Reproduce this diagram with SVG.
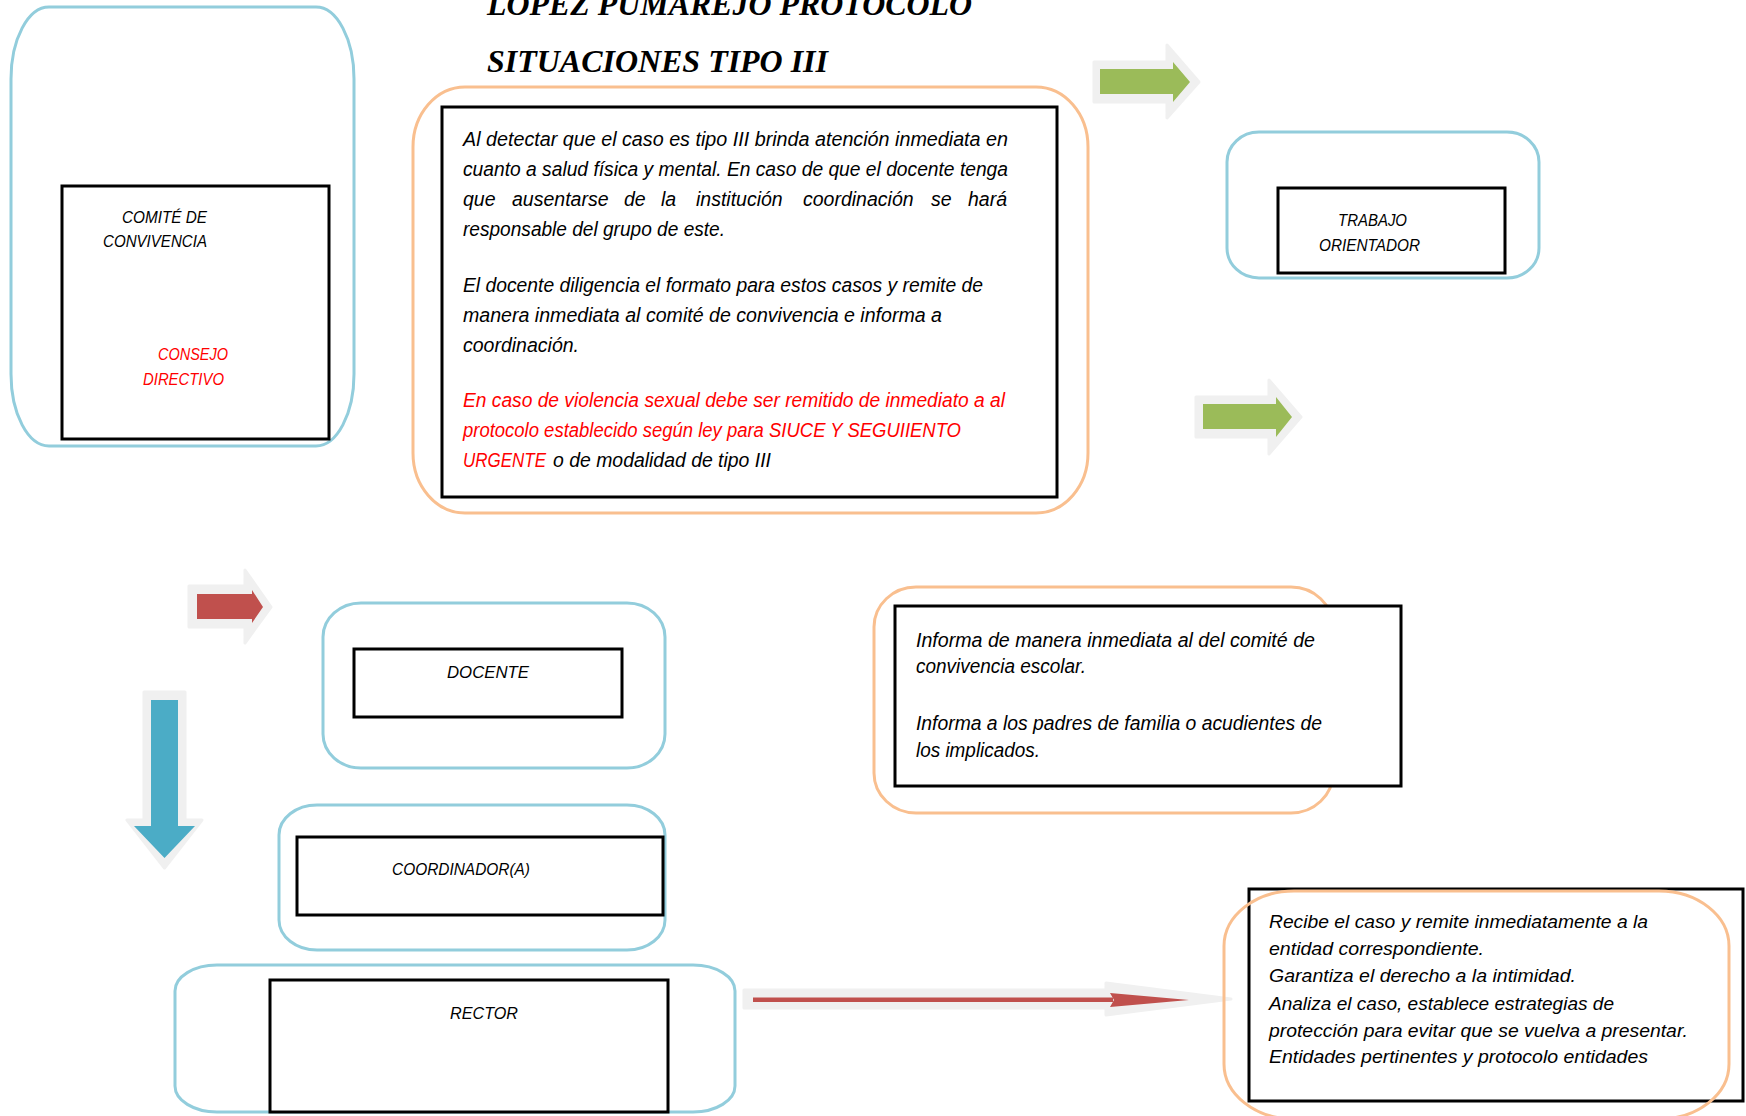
<svg xmlns="http://www.w3.org/2000/svg" width="1746" height="1116" viewBox="0 0 1746 1116">
  <style>
    .blue { fill: none; stroke: #92CDDC; stroke-width: 3; }
    .orange { fill: none; stroke: #F9BF8F; stroke-width: 3; }
    .box { fill: #FFFFFF; stroke: #000000; stroke-width: 3; }
    .t { font-family: "Liberation Sans", Arial, sans-serif; font-style: italic; fill: #000000; }
    .lbl { font-size: 17px; }
    .body { font-size: 19.5px; }
    .small { font-size: 19px; }
    .red { fill: #FF0000; }
    .title { font-family: "Liberation Serif", "Times New Roman", serif; font-weight: bold; font-style: italic; font-size: 32px; fill: #000000; }
    .halo { fill: #F0F0F0; stroke: #F0F0F0; stroke-width: 3; stroke-linejoin: round; }
  </style>

  <rect width="1746" height="1116" fill="#FFFFFF"/>

  <!-- title -->
  <g id="title">
    <text class="title" x="487" y="15" textLength="485" lengthAdjust="spacingAndGlyphs">LOPEZ PUMAREJO PROTOCOLO</text>
    <text class="title" x="487" y="72" textLength="341" lengthAdjust="spacingAndGlyphs">SITUACIONES TIPO III</text>
  </g>

  <!-- connectors: block arrows -->
  <g id="connectors">
    <!-- green arrow, top -->
    <polygon class="halo" points="1094,62 1167,62 1167,45 1199,82 1167,118 1167,102 1094,102"/>
    <polygon fill="#9BBB59" points="1100,69 1173,69 1173,62 1190,82 1173,102 1173,94 1100,94"/>
    <!-- green arrow, middle -->
    <polygon class="halo" points="1196,397 1269,397 1269,380 1301,417 1269,454 1269,437 1196,437"/>
    <polygon fill="#9BBB59" points="1203,404 1276,404 1276,397 1292,417 1276,437 1276,429 1203,429"/>
    <!-- red arrow, left -->
    <polygon class="halo" points="189,586 245,586 245,570 271,607 245,643 245,627 189,627"/>
    <polygon fill="#C0504D" points="197,594 252,594 252,590 263,607 252,623 252,619 197,619"/>
    <!-- blue arrow, down -->
    <polygon class="halo" points="144,692 185,692 185,820 202,820 164.5,868 127,820 144,820"/>
    <polygon fill="#4BACC6" points="151,700 178,700 178,826 195,826 164.5,858 134,826 151,826"/>
    <!-- long red arrow -->
    <polygon class="halo" points="744,990 1106,990 1106,983 1231,999 1106,1015 1106,1008 744,1008"/>
    <rect x="753" y="997.5" width="360" height="4.5" fill="#C0504D"/>
    <polygon fill="#C0504D" points="1110,993 1189,1000 1110,1007 1114,1000"/>
  </g>

  <!-- COMITÉ DE CONVIVENCIA / CONSEJO DIRECTIVO -->
  <g id="comite">
    <rect class="blue" x="11" y="7" width="343" height="439" rx="38" ry="72"/>
    <rect class="box" x="62" y="186" width="267" height="253"/>
    <text class="t lbl" x="122" y="223" textLength="85" lengthAdjust="spacingAndGlyphs">COMITÉ DE</text>
    <text class="t lbl" x="103" y="247" textLength="104" lengthAdjust="spacingAndGlyphs">CONVIVENCIA</text>
    <text class="t lbl red" x="158" y="360" textLength="70" lengthAdjust="spacingAndGlyphs">CONSEJO</text>
    <text class="t lbl red" x="143" y="385" textLength="81" lengthAdjust="spacingAndGlyphs">DIRECTIVO</text>
  </g>

  <!-- main description -->
  <g id="descripcion">
    <rect class="orange" x="413" y="87" width="675" height="426" rx="52" ry="60"/>
    <rect class="box" x="442" y="107" width="615" height="390"/>
    <text class="t body" x="463" y="146" textLength="545" lengthAdjust="spacingAndGlyphs">Al detectar que el caso es tipo III brinda atención inmediata en</text>
    <text class="t body" x="463" y="176" textLength="545" lengthAdjust="spacingAndGlyphs">cuanto a salud física y mental. En caso de que el docente tenga</text>
    <text class="t body" y="206">
      <tspan x="463">que</tspan><tspan x="512">ausentarse</tspan><tspan x="624">de</tspan><tspan x="661">la</tspan><tspan x="696">institución</tspan><tspan x="803">coordinación</tspan><tspan x="931">se</tspan><tspan x="968">hará</tspan>
    </text>
    <text class="t body" x="463" y="236" textLength="262" lengthAdjust="spacingAndGlyphs">responsable del grupo de este.</text>
    <text class="t body" x="463" y="292" textLength="520" lengthAdjust="spacingAndGlyphs">El docente diligencia el formato para estos casos y remite de</text>
    <text class="t body" x="463" y="322" textLength="479" lengthAdjust="spacingAndGlyphs">manera inmediata al comité de convivencia e informa a</text>
    <text class="t body" x="463" y="352" textLength="116" lengthAdjust="spacingAndGlyphs">coordinación.</text>
    <text class="t body red" x="463" y="407" textLength="542" lengthAdjust="spacingAndGlyphs">En caso de violencia sexual debe ser remitido de inmediato a al</text>
    <text class="t body red" x="463" y="437" textLength="498" lengthAdjust="spacingAndGlyphs">protocolo establecido según ley para SIUCE Y SEGUIIENTO</text>
    <text class="t body red" x="463" y="467" textLength="83" lengthAdjust="spacingAndGlyphs">URGENTE</text>
    <text class="t body" x="553" y="467" textLength="218" lengthAdjust="spacingAndGlyphs">o de modalidad de tipo III</text>
  </g>

  <!-- TRABAJO ORIENTADOR -->
  <g id="orientador">
    <rect class="blue" x="1227" y="132" width="312" height="146" rx="32" ry="30"/>
    <rect class="box" x="1278" y="188" width="227" height="85"/>
    <text class="t lbl" x="1338" y="226" textLength="69" lengthAdjust="spacingAndGlyphs">TRABAJO</text>
    <text class="t lbl" x="1319" y="251" textLength="101" lengthAdjust="spacingAndGlyphs">ORIENTADOR</text>
  </g>

  <!-- DOCENTE -->
  <g id="docente">
    <rect class="blue" x="323" y="603" width="342" height="165" rx="38" ry="34"/>
    <rect class="box" x="354" y="649" width="268" height="68"/>
    <text class="t lbl" x="447" y="678" textLength="82" lengthAdjust="spacingAndGlyphs">DOCENTE</text>
  </g>

  <!-- COORDINADOR(A) -->
  <g id="coordinador">
    <rect class="blue" x="279" y="805" width="386" height="145" rx="38" ry="30"/>
    <rect class="box" x="297" y="837" width="366" height="78"/>
    <text class="t lbl" x="392" y="875" textLength="138" lengthAdjust="spacingAndGlyphs">COORDINADOR(A)</text>
  </g>

  <!-- RECTOR -->
  <g id="rector">
    <rect class="blue" x="175" y="965" width="560" height="147" rx="42" ry="26"/>
    <rect class="box" x="270" y="980" width="398" height="132"/>
    <text class="t lbl" x="450" y="1019" textLength="68" lengthAdjust="spacingAndGlyphs">RECTOR</text>
  </g>

  <!-- informa -->
  <g id="informa">
    <rect class="orange" x="874" y="587" width="459" height="226" rx="42" ry="40"/>
    <rect class="box" x="895" y="606" width="506" height="180"/>
    <text class="t body" x="916" y="647" textLength="399" lengthAdjust="spacingAndGlyphs">Informa de manera inmediata al del comité de</text>
    <text class="t body" x="916" y="673" textLength="170" lengthAdjust="spacingAndGlyphs">convivencia escolar.</text>
    <text class="t body" x="916" y="730" textLength="406" lengthAdjust="spacingAndGlyphs">Informa a los padres de familia o acudientes de</text>
    <text class="t body" x="916" y="757" textLength="124" lengthAdjust="spacingAndGlyphs">los implicados.</text>
  </g>

  <!-- recibe el caso -->
  <g id="recibe">
    <rect class="box" x="1249" y="889" width="494" height="212"/>
    <rect class="orange" x="1224" y="891" width="505" height="228" rx="70" ry="55"/>
    <text class="t small" x="1269" y="928" textLength="379" lengthAdjust="spacingAndGlyphs">Recibe el caso y remite inmediatamente a la</text>
    <text class="t small" x="1269" y="955" textLength="215" lengthAdjust="spacingAndGlyphs">entidad correspondiente.</text>
    <text class="t small" x="1269" y="982" textLength="307" lengthAdjust="spacingAndGlyphs">Garantiza el derecho a la intimidad.</text>
    <text class="t small" x="1269" y="1010" textLength="345" lengthAdjust="spacingAndGlyphs">Analiza el caso, establece estrategias de</text>
    <text class="t small" x="1269" y="1037" textLength="419" lengthAdjust="spacingAndGlyphs">protección para evitar que se vuelva a presentar.</text>
    <text class="t small" x="1269" y="1063" textLength="379" lengthAdjust="spacingAndGlyphs">Entidades pertinentes y protocolo entidades</text>
  </g>
</svg>
